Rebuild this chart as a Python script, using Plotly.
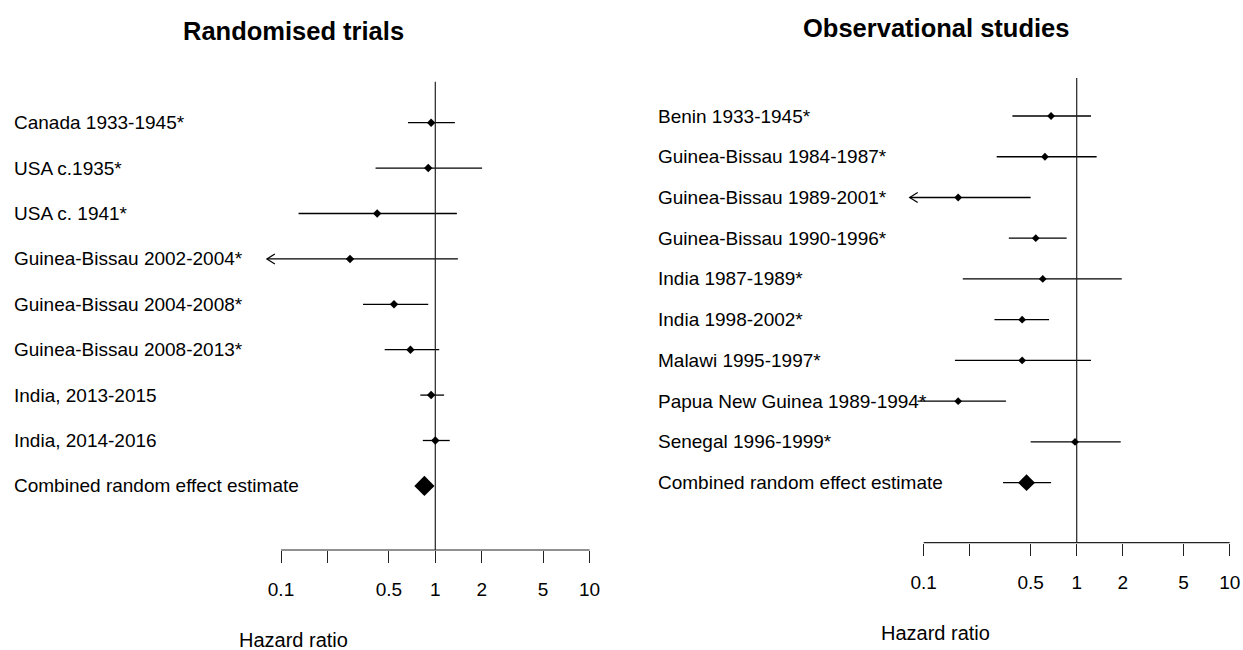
import math
import plotly.graph_objects as go

# ---------------- data ----------------
rt_labels = ["Canada 1933-1945*", "USA c.1935*", "USA c. 1941*",
             "Guinea-Bissau 2002-2004*", "Guinea-Bissau 2004-2008*",
             "Guinea-Bissau 2008-2013*", "India, 2013-2015", "India, 2014-2016"]
rt_hr = [0.94, 0.90, 0.42, 0.28, 0.54, 0.69, 0.94, 1.00]
rt_lo = [0.665, 0.41, 0.13, 0.06, 0.34, 0.47, 0.80, 0.83]
rt_hi = [1.34, 2.01, 1.38, 1.40, 0.90, 1.06, 1.14, 1.24]
rt_comb = [0.85, 0.78, 0.93]   # estimate, lower, upper

os_labels = ["Benin 1933-1945*", "Guinea-Bissau 1984-1987*", "Guinea-Bissau 1989-2001*",
             "Guinea-Bissau 1990-1996*", "India 1987-1989*", "India 1998-2002*",
             "Malawi 1995-1997*", "Papua New Guinea 1989-1994*", "Senegal 1996-1999*"]
os_hr = [0.68, 0.62, 0.168, 0.54, 0.60, 0.44, 0.44, 0.168, 0.975]
os_lo = [0.38, 0.30, 0.06, 0.36, 0.18, 0.29, 0.16, 0.091, 0.50]
os_hi = [1.24, 1.35, 0.50, 0.86, 1.97, 0.66, 1.24, 0.345, 1.94]
os_comb = [0.47, 0.33, 0.68]

comb_label = "Combined random effect estimate"
tick_vals = [0.1, 0.2, 0.5, 1, 2, 5, 10]
tick_text = ["0.1", "", "0.5", "1", "2", "5", "10"]
x_clip = 0.081   # plotting limit; CIs beyond get an arrow

# ---------------- layout geometry (pixels) ----------------
W, H = 1243, 650
FONT = "Liberation Sans, Arial, sans-serif"

def px(p):
    return p / W

def py(p):
    return 1 - p / H

panels = [
    dict(name="Randomised trials", labels=rt_labels, hr=rt_hr, lo=rt_lo, hi=rt_hi, comb=rt_comb,
         xd=(250, 600), one=435.3, dec=154.3, yd=(60, 565), row0=122.7, drow=45.4,
         axis_y=550, vtop=81.7, label_x=12, title_y=31, xlab_y=640, center=293,
         comb_size=15.5, pt_size=6.5),
    dict(name="Observational studies", labels=os_labels, hr=os_hr, lo=os_lo, hi=os_hi, comb=os_comb,
         xd=(895, 1243), one=1076.7, dec=153.0, yd=(60, 560), row0=116.0, drow=40.74,
         axis_y=542.7, vtop=78.0, label_x=656, title_y=28, xlab_y=633, center=936,
         comb_size=13, pt_size=6),
]

fig = go.Figure()
annotations = []
layout = dict(width=W, height=H, margin=dict(l=0, r=0, t=0, b=0),
              paper_bgcolor="white", plot_bgcolor="white", showlegend=False)

for i, p in enumerate(panels):
    sfx = "" if i == 0 else str(i + 1)
    xa, ya = "x" + sfx, "y" + sfx
    n = len(p["labels"])
    rows = list(range(n))
    comb_row = n

    def yrow(pix, p=p):
        return (pix - p["row0"]) / p["drow"]

    # CI lines (clipped at x_clip)
    lx, ly = [], []
    ax_, ay_ = [], []
    for r, lo, hi in zip(rows, p["lo"], p["hi"]):
        lo_c = max(lo, x_clip)
        lx += [lo_c, hi, None]
        ly += [r, r, None]
        if lo < x_clip:
            lt = math.log10(x_clip)
            arm = 10 ** (lt + 8 / p["dec"])
            dyr = 5 / p["drow"]
            ax_ += [arm, x_clip, arm, None]
            ay_ += [r - dyr, r, r + dyr, None]
    # combined CI
    lx += [p["comb"][1], p["comb"][2], None]
    ly += [comb_row, comb_row, None]

    fig.add_trace(go.Scatter(x=lx, y=ly, mode="lines", line=dict(color="black", width=1.3),
                             xaxis=xa, yaxis=ya, hoverinfo="skip"))
    if ax_:
        fig.add_trace(go.Scatter(x=ax_, y=ay_, mode="lines", line=dict(color="black", width=1.2),
                                 xaxis=xa, yaxis=ya, hoverinfo="skip"))
    # reference line at 1 and axis baseline
    fig.add_trace(go.Scatter(x=[1, 1], y=[yrow(p["vtop"]), yrow(p["axis_y"])], mode="lines",
                             line=dict(color="#222222", width=1.2), xaxis=xa, yaxis=ya,
                             hoverinfo="skip"))
    fig.add_trace(go.Scatter(x=[tick_vals[0], tick_vals[-1]], y=[yrow(p["axis_y"])] * 2,
                             mode="lines", line=dict(color="#222222", width=1.2),
                             xaxis=xa, yaxis=ya, hoverinfo="skip"))
    # study points
    fig.add_trace(go.Scatter(x=p["hr"], y=rows, mode="markers",
                             marker=dict(symbol="diamond", size=p["pt_size"], color="black",
                                         line=dict(width=0)),
                             xaxis=xa, yaxis=ya))
    # combined estimate
    fig.add_trace(go.Scatter(x=[p["comb"][0]], y=[comb_row], mode="markers",
                             marker=dict(symbol="diamond", size=p["comb_size"], color="black",
                                         line=dict(width=0)),
                             xaxis=xa, yaxis=ya))

    x0, x1 = p["xd"]
    y_top, y_bot = p["yd"]
    layout["xaxis" + sfx] = dict(
        type="log", domain=[px(x0), px(x1)],
        range=[(x0 - p["one"]) / p["dec"], (x1 - p["one"]) / p["dec"]],
        anchor="free", position=py(p["axis_y"]),
        showline=False, showgrid=False, zeroline=False,
        tickmode="array", tickvals=tick_vals, ticktext=tick_text,
        ticks="outside", ticklen=12, tickwidth=1.2, tickcolor="#222222",
        tickfont=dict(family=FONT, size=19, color="black"),
        ticklabelstandoff=10, fixedrange=True)
    layout["yaxis" + sfx] = dict(
        domain=[py(y_bot), py(y_top)],
        range=[yrow(y_bot), yrow(y_top)],
        visible=False, fixedrange=True)

    # row labels
    for r, lab in enumerate(p["labels"] + [comb_label]):
        annotations.append(dict(text=lab, x=px(p["label_x"]), xref="paper", xanchor="left",
                                y=r, yref=ya, yanchor="middle", showarrow=False,
                                font=dict(family=FONT, size=19, color="black")))
    # title
    annotations.append(dict(text="<b>" + p["name"] + "</b>", x=px(p["center"]), xref="paper",
                            xanchor="center", y=py(p["title_y"]), yref="paper",
                            yanchor="middle", showarrow=False,
                            font=dict(family=FONT, size=25.5, color="black")))
    # x label
    annotations.append(dict(text="Hazard ratio", x=px(p["center"]), xref="paper",
                            xanchor="center", y=py(p["xlab_y"]), yref="paper",
                            yanchor="middle", showarrow=False,
                            font=dict(family=FONT, size=20, color="black")))

layout["annotations"] = annotations
fig.update_layout(**layout)
fig.write_html("out.html")
